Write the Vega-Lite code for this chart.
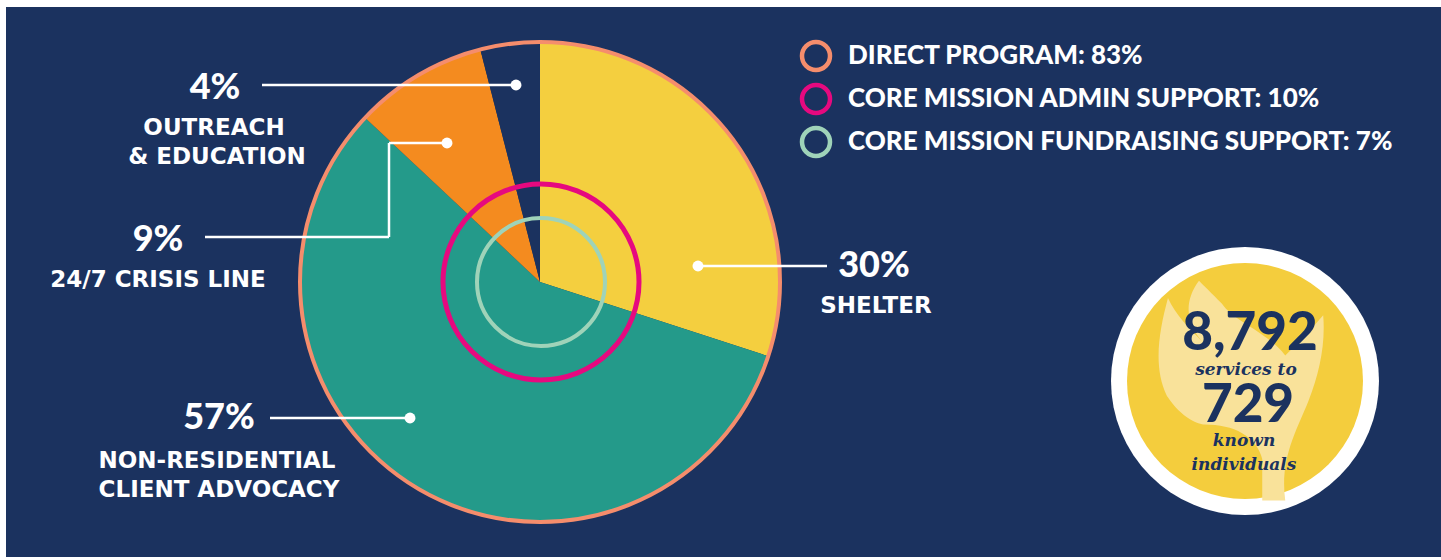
{
  "$schema": "https://vega.github.io/schema/vega-lite/v6.json",
  "width": 1435,
  "height": 550,
  "padding": {"left": 6, "top": 7, "right": 0, "bottom": 3},
  "autosize": {"type": "none"},
  "background": "white",
  "config": {"view": {"fill": "#1b325f", "stroke": null}},
  "datasets": {
    "slices": [
      {"category": "Shelter", "value": 30, "order": 1, "x": 540, "y": 282},
      {"category": "Non-Residential Client Advocacy", "value": 57, "order": 2, "x": 540, "y": 282},
      {"category": "24/7 Crisis Line", "value": 9, "order": 3, "x": 540, "y": 282},
      {"category": "Outreach & Education", "value": 4, "order": 4, "x": 540, "y": 282}
    ],
    "rings": [
      {"ring": "Direct Program", "x": 540, "y": 282, "r2": 230400, "sw": 4},
      {"ring": "Core Mission Admin Support", "x": 541, "y": 282, "r2": 38416, "sw": 5},
      {"ring": "Core Mission Fundraising Support", "x": 541, "y": 282, "r2": 16384, "sw": 4}
    ],
    "leaders": [
      {"x": 262, "y": 85, "x2": 516, "y2": 85},
      {"x": 205, "y": 237, "x2": 389, "y2": 237},
      {"x": 389, "y": 237, "x2": 389, "y2": 143},
      {"x": 389, "y": 143, "x2": 447, "y2": 143},
      {"x": 270, "y": 418, "x2": 410, "y2": 418},
      {"x": 698, "y": 266, "x2": 827, "y2": 266}
    ],
    "dots": [
      {"x": 516, "y": 85},
      {"x": 447, "y": 143},
      {"x": 410, "y": 418},
      {"x": 698, "y": 266}
    ],
    "texts": [
      {"kind": "pct", "x": 215, "y": 88, "text": "4%"},
      {"kind": "pct", "x": 158, "y": 240, "text": "9%"},
      {"kind": "pct", "x": 219, "y": 418, "text": "57%"},
      {"kind": "pct", "x": 874, "y": 266, "text": "30%"},
      {"kind": "cat", "x": 214, "y": 128, "text": "OUTREACH"},
      {"kind": "cat", "x": 217, "y": 157, "text": "& EDUCATION"},
      {"kind": "cat", "x": 158, "y": 280, "text": "24/7 CRISIS LINE"},
      {"kind": "cat", "x": 217, "y": 461, "text": "NON-RESIDENTIAL"},
      {"kind": "cat", "x": 219, "y": 490, "text": "CLIENT ADVOCACY"},
      {"kind": "cat", "x": 876, "y": 306, "text": "SHELTER"},
      {"kind": "legend", "x": 848, "y": 56, "text": "DIRECT PROGRAM: 83%"},
      {"kind": "legend", "x": 848, "y": 99, "text": "CORE MISSION ADMIN SUPPORT: 10%"},
      {"kind": "legend", "x": 848, "y": 142, "text": "CORE MISSION FUNDRAISING SUPPORT: 7%"},
      {"kind": "big", "x": 1250, "y": 334, "text": "8,792"},
      {"kind": "big", "x": 1248, "y": 406, "text": "729"},
      {"kind": "small", "x": 1246, "y": 370, "text": "services to"},
      {"kind": "small", "x": 1244, "y": 441, "text": "known"},
      {"kind": "small", "x": 1244, "y": 465, "text": "individuals"}
    ],
    "legendmarks": [
      {"ring": "Direct Program", "x": 816, "y": 56},
      {"ring": "Core Mission Admin Support", "x": 816, "y": 99},
      {"ring": "Core Mission Fundraising Support", "x": 816, "y": 142}
    ],
    "badge": [
      {"part": "outer", "x": 1245, "y": 381}
    ],
    "flame": [
      {"x": 1245, "y": 390}
    ]
  },
  "encoding": {
    "x": {"field": "x", "type": "quantitative", "scale": {"domain": [6, 1441], "nice": false, "zero": false}, "axis": null},
    "y": {"field": "y", "type": "quantitative", "scale": {"domain": [7, 557], "nice": false, "zero": false, "reverse": true}, "axis": null}
  },
  "layer": [
    {
      "data": {"name": "slices"},
      "mark": {"type": "arc", "radius": 240, "stroke": null},
      "encoding": {
        "theta": {"field": "value", "type": "quantitative", "stack": true},
        "order": {"field": "order", "type": "quantitative"},
        "color": {
          "field": "category", "type": "nominal", "legend": null,
          "scale": {
            "domain": ["Shelter", "Non-Residential Client Advocacy", "24/7 Crisis Line", "Outreach & Education"],
            "range": ["#f4cf3f", "#249a8a", "#f48b1f", "#1b325f"]
          }
        }
      }
    },
    {
      "data": {"name": "rings"},
      "mark": {"type": "point", "shape": "circle", "filled": false, "opacity": 1},
      "encoding": {
        "size": {"field": "r2", "type": "quantitative", "scale": null, "legend": null},
        "strokeWidth": {"field": "sw", "type": "quantitative", "scale": null, "legend": null},
        "stroke": {
          "field": "ring", "type": "nominal", "legend": null,
          "scale": {
            "domain": ["Direct Program", "Core Mission Admin Support", "Core Mission Fundraising Support"],
            "range": ["#f58d6c", "#e6097f", "#9fd3b9"]
          }
        }
      }
    },
    {
      "data": {"name": "leaders"},
      "mark": {"type": "rule", "color": "white", "strokeWidth": 2.5},
      "encoding": {
        "x2": {"field": "x2"},
        "y2": {"field": "y2"}
      }
    },
    {
      "data": {"name": "dots"},
      "mark": {"type": "point", "shape": "circle", "filled": true, "color": "white", "opacity": 1, "size": 120}
    },
    {
      "data": {"name": "texts"},
      "transform": [{"filter": "datum.kind == 'pct'"}],
      "mark": {"type": "text", "font": "Lato", "fontWeight": 900, "fontSize": 36, "color": "white", "align": "center", "baseline": "middle"},
      "encoding": {"text": {"field": "text"}}
    },
    {
      "data": {"name": "texts"},
      "transform": [{"filter": "datum.kind == 'cat'"}],
      "mark": {"type": "text", "font": "DejaVu Sans", "fontWeight": "bold", "fontSize": 23, "letterSpacing": 3.5, "color": "white", "align": "center", "baseline": "middle"},
      "encoding": {"text": {"field": "text"}}
    },
    {
      "data": {"name": "legendmarks"},
      "mark": {"type": "point", "shape": "circle", "filled": false, "opacity": 1, "size": 784, "strokeWidth": 4.5},
      "encoding": {
        "stroke": {
          "field": "ring", "type": "nominal", "legend": null,
          "scale": {
            "domain": ["Direct Program", "Core Mission Admin Support", "Core Mission Fundraising Support"],
            "range": ["#f58d6c", "#e6097f", "#9fd3b9"]
          }
        }
      }
    },
    {
      "data": {"name": "texts"},
      "transform": [{"filter": "datum.kind == 'legend'"}],
      "mark": {"type": "text", "font": "Lato", "fontWeight": 900, "fontSize": 26, "color": "white", "align": "left", "baseline": "middle"},
      "encoding": {"text": {"field": "text"}}
    },
    {
      "data": {"name": "badge"},
      "mark": {"type": "point", "shape": "circle", "filled": true, "opacity": 1, "strokeWidth": 0, "color": "#ffffff", "size": 71824}
    },
    {
      "data": {"name": "badge"},
      "mark": {"type": "point", "shape": "circle", "filled": true, "opacity": 1, "strokeWidth": 0, "color": "#f4cd3d", "size": 55696}
    },
    {
      "data": {"name": "flame"},
      "mark": {
        "type": "point", "filled": true, "opacity": 1, "color": "#f9e29a", "strokeWidth": 0, "size": 52900,
        "shape": "M 0.15 0.96 L 0.35 0.96 C 0.3 0.6 0.45 0.35 0.55 0.1 C 0.65 -0.15 0.7 -0.4 0.68 -0.65 C 0.55 -0.5 0.45 -0.4 0.35 -0.3 C 0.2 -0.5 -0.1 -0.6 -0.2 -0.75 C -0.3 -0.85 -0.35 -0.9 -0.4 -0.95 C -0.55 -0.75 -0.5 -0.55 -0.35 -0.4 C -0.5 -0.55 -0.6 -0.65 -0.67 -0.8 C -0.75 -0.5 -0.8 -0.2 -0.68 0.05 C -0.55 0.25 -0.4 0.3 -0.35 0.3 C -0.1 0.3 0.1 0.4 0.15 0.6 Z"
      }
    },
    {
      "data": {"name": "texts"},
      "transform": [{"filter": "datum.kind == 'big'"}],
      "mark": {"type": "text", "font": "Lato", "fontWeight": 900, "fontSize": 53, "color": "#1b325f", "align": "center", "baseline": "middle"},
      "encoding": {"text": {"field": "text"}}
    },
    {
      "data": {"name": "texts"},
      "transform": [{"filter": "datum.kind == 'small'"}],
      "mark": {"type": "text", "font": "DejaVu Serif", "fontWeight": "bold", "fontStyle": "italic", "fontSize": 17, "letterSpacing": 1.5, "color": "#1b325f", "align": "center", "baseline": "middle"},
      "encoding": {"text": {"field": "text"}}
    }
  ]
}
